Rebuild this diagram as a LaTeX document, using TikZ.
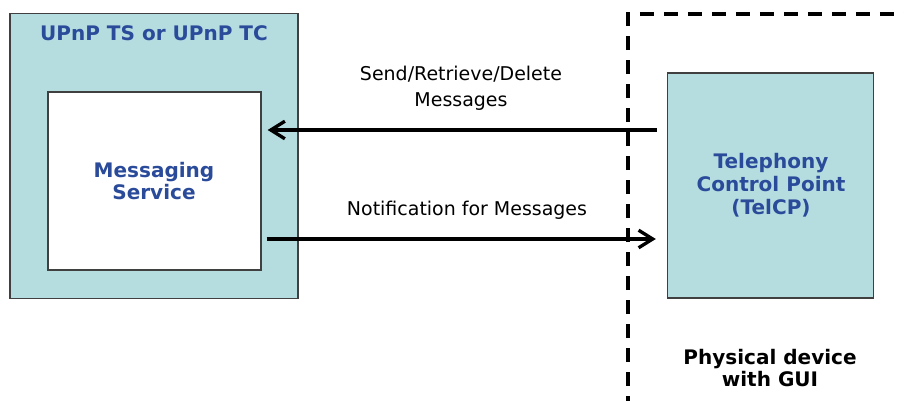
\documentclass[tikz,border=0pt]{standalone}
\usepackage{fontspec}
\setmainfont{DejaVu Sans}
\usepackage{tikz}
\usetikzlibrary{arrows.meta}

\definecolor{boxteal}{RGB}{181,221,224}
\definecolor{boxblue}{RGB}{42,74,154}
\definecolor{boxline}{RGB}{64,64,64}

\begin{document}
\begin{tikzpicture}[x=0.02cm, y=-0.02cm,
		box_style/.style={rectangle,draw=boxline,line width=0.8pt,fill=boxteal,inner sep=0pt},
		inner_style/.style={rectangle,draw=boxline,line width=0.8pt,fill=white,inner sep=0pt},
		title_style/.style={text=boxblue,font=\fontsize{11.4}{13}\selectfont\bfseries,align=center},
		label_style/.style={font=\fontsize{10.8}{15}\selectfont,align=center},
		frame_style/.style={draw=black,line width=1.9pt,dash pattern=on 0.28cm off 0.2cm},
		edge_style/.style={draw=black,line width=1.9pt,-{Straight Barb[length=8pt,width=10pt,line width=1.9pt]}}]

		\useasboundingbox (0,0) rectangle (904,401);

		% left side
		\node[box_style,minimum width=5.76cm,minimum height=5.7cm] (upnp) at (154,156) {};
		\node[title_style] (upnptitle) at (154,33) {UPnP TS or UPnP TC};
		\node[inner_style,minimum width=4.26cm,minimum height=3.56cm] (msg) at (154.5,181) {};
		\node[title_style] (msgtext) at (154,181) {Messaging\\Service};

		% physical device
		\draw[frame_style] (628,410) -- (628,14) -- (912,14);
		\node[box_style,minimum width=4.12cm,minimum height=4.5cm] (telcp) at (770.5,185.5) {};
		\node[title_style] (telcptext) at (771,185) {Telephony\\Control Point\\(TelCP)};
		\node[title_style,text=black] (device) at (770,368) {Physical device\\with GUI};

		% messages
		\draw[edge_style,shorten <=0.2cm,shorten >=0.12cm] (telcp.west |- 0,130) -- (msg.east |- 0,130);
		\draw[edge_style,shorten <=0.1cm,shorten >=0.22cm] (msg.east |- 0,239) -- (telcp.west |- 0,239);
		\node[label_style] (sendlabel) at (461,88) {Send/Retrieve/Delete\\Messages};
		\node[label_style] (notelabel) at (467,210) {Notification for Messages};

\end{tikzpicture}
\end{document}
